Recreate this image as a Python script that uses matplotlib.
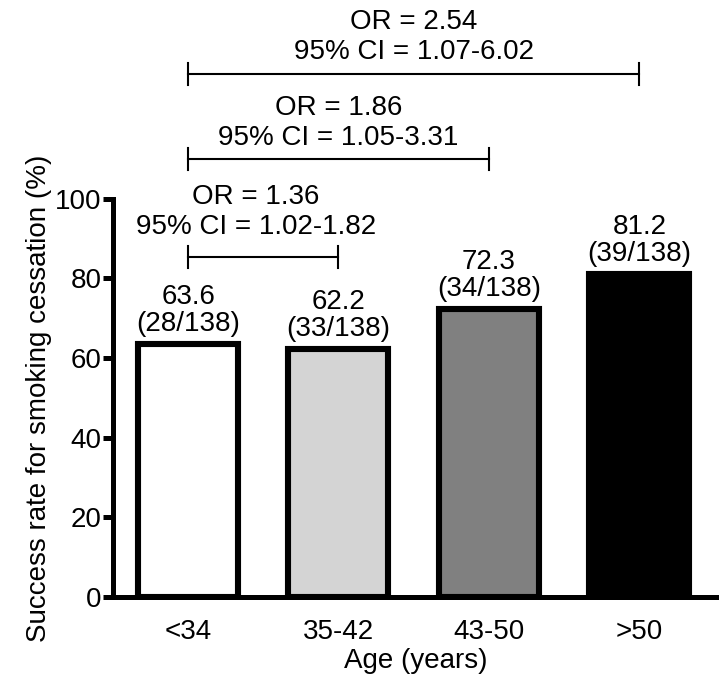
import matplotlib
matplotlib.use("Agg")
import matplotlib.pyplot as plt

categories = ["<34", "35-42", "43-50", ">50"]
rates = [63.6, 62.2, 72.3, 81.2]
counts = ["(28/138)", "(33/138)", "(34/138)", "(39/138)"]
colors = ["#ffffff", "#d4d4d4", "#808080", "#000000"]
or_labels = ["OR = 1.36", "OR = 1.86", "OR = 2.54"]
ci_labels = ["95% CI = 1.02-1.82", "95% CI = 1.05-3.31", "95% CI = 1.07-6.02"]
bracket_pairs = [(0, 1), (0, 2), (0, 3)]

plt.rcParams['font.family'] = ['Liberation Sans', 'DejaVu Sans']
FS = 20

fig = plt.figure(figsize=(7.19, 6.83), dpi=100)
ax = fig.add_axes([0.157, 0.126, 0.843, 0.583])

x = list(range(len(categories)))
ax.bar(x, rates, width=0.665, color=colors, edgecolor="black", linewidth=4.4, zorder=2)

for xi, r, c in zip(x, rates, counts):
    ax.annotate(f"{r}\n{c}", (xi, r), xytext=(0, 5), textcoords="offset points",
                ha="center", va="bottom", fontsize=FS, linespacing=1.05)

ax.set_xlim(-0.5, 3.53)
ax.set_ylim(0, 100)
ax.set_yticks([0, 20, 40, 60, 80, 100])
ax.set_xticks(x)
ax.set_xticklabels(categories, fontsize=FS)
ax.tick_params(axis="y", labelsize=FS, width=3.6, length=7, pad=1)
ax.tick_params(axis="x", length=0, pad=16)
for s in ["top", "right"]:
    ax.spines[s].set_visible(False)
for s in ["left", "bottom"]:
    ax.spines[s].set_linewidth(3.6)
ax.spines["bottom"].set_capstyle("butt")

ax.set_xlabel("Age (years)", fontsize=FS, labelpad=2)
ax.set_ylabel("Success rate for smoking cessation (%)", fontsize=FS, labelpad=2)

bracket_y = [85.4, 110.0, 131.4]
or_y = [100.5, 122.9, 144.5]
ci_y = [93.0, 115.3, 136.9]
tick_h = 2.8
text_x = [0.45, 1.0, 1.5]
for (a, b), by, oy, cy, tx, ol, cl in zip(bracket_pairs, bracket_y, or_y, ci_y, text_x, or_labels, ci_labels):
    ax.plot([a, b], [by, by], color="black", lw=1.5, clip_on=False)
    ax.plot([a, a], [by - tick_h, by + tick_h], color="black", lw=1.5, clip_on=False)
    ax.plot([b, b], [by - tick_h, by + tick_h], color="black", lw=1.5, clip_on=False)
    ax.text(tx, oy, ol, ha="center", va="center", fontsize=FS, clip_on=False)
    ax.text(tx, cy, cl, ha="center", va="center", fontsize=FS, clip_on=False)

fig.savefig("out.png", dpi=100)
